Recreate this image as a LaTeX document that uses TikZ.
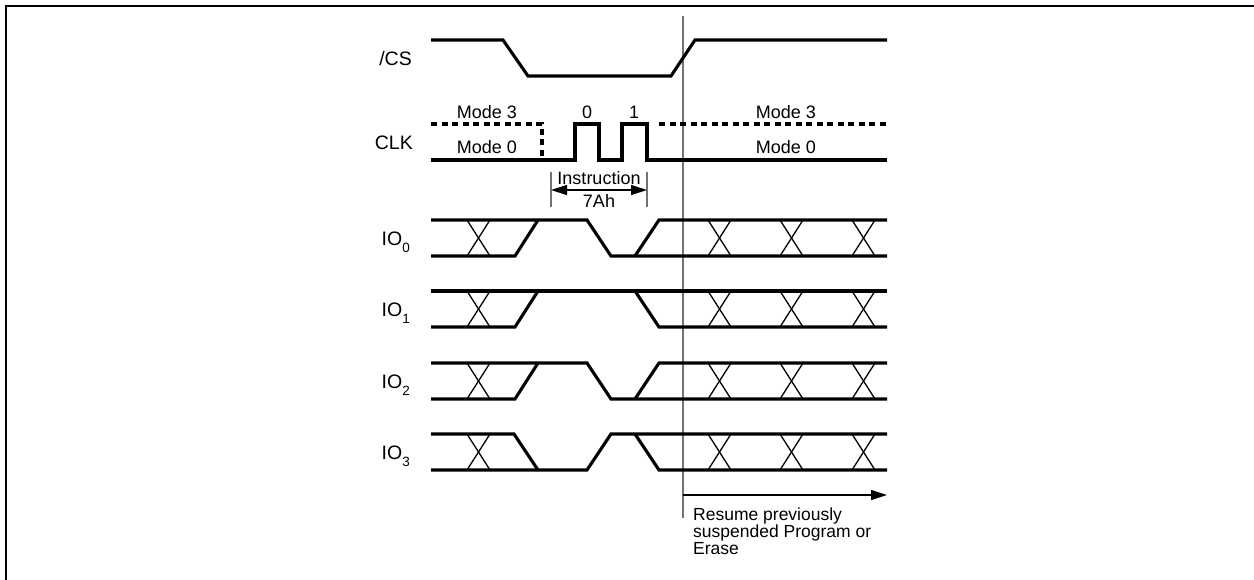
\documentclass[tikz,border=0pt]{standalone}
\usepackage{fontspec}
\setmainfont{Liberation Sans}
\usetikzlibrary{arrows.meta}
\begin{document}
\begin{tikzpicture}[x=1pt,y=-1pt,
  sig/.style={line width=3.1pt},
  xline/.style={line width=1.3pt},
  dsig/.style={line width=3.1pt, dash pattern=on 6pt off 4.5pt},
  guide/.style={line width=1.2pt, draw=black!55},
  lbl/.style={font=\fontsize{19.5}{19}\selectfont, inner sep=0pt, anchor=base east},
  txt/.style={font=\fontsize{18}{16}\selectfont, inner sep=0pt, anchor=base},
  rtxt/.style={font=\fontsize{17.5}{16}\selectfont, inner sep=0pt, anchor=base west},
  frame/.style={line width=2.2pt}]
\useasboundingbox (0,0) rectangle (1254,579);
\begin{scope}
\clip (0,0) rectangle (1254,579);
\draw[frame] (6,6) rectangle (1270,600);
\end{scope}
% guide line
\draw[guide] (683,16) coordinate (gtop) -- (683,518) coordinate (gbot);
\coordinate (arrS) at (683,495);
\coordinate (arrE) at (887,495);
\draw[line width=1.2pt, -{Triangle[length=16pt,width=10pt]}] (arrS) -- (arrE);
\node[rtxt] (resume1) at (693,520) {Resume previously};
\node[rtxt] (resume2) at (693,537) {suspended Program or};
\node[rtxt] (resume3) at (693,554) {Erase};
% labels
\node[lbl] (lcs) at (412,65) {/CS};
\node[lbl] (lclk) at (413,149) {CLK};
\foreach \n/\m in {0/238,1/309,2/381,3/452}{
  \node[lbl] (lio\n) at (410,\m+7) {IO\raisebox{-7pt}{\fontsize{13.5}{13}\selectfont\n}};
}
% /CS
\draw[sig] (431,40) -- (503,40) -- (528,76) -- (671,76) -- (695,40) -- (887,40);
% CLK
\draw[sig] (431,160) -- (575,160) -- (575,124) -- (599,124) -- (599,160) -- (622,160) -- (622,124) -- (647,124) -- (647,160) -- (887,160);
\draw[dsig] (431,124) -- (542,124) -- (542,160);
\draw[dsig] (659,124) -- (887,124);
\node[txt] (m3l) at (487,118) {Mode 3};
\node[txt] (m0l) at (487,153) {Mode 0};
\node[txt] (c0) at (587,118) {0};
\node[txt] (c1) at (634,118) {1};
\node[txt] (m3r) at (786,118) {Mode 3};
\node[txt] (m0r) at (786,153) {Mode 0};
% instruction dimension
\coordinate (ia) at (551,190);
\coordinate (ib) at (647,190);
\draw[guide] (551,172) -- (551,207);
\draw[guide] (647,172) -- (647,207);
\draw[line width=1.2pt, {Triangle[length=16pt,width=10pt]}-{Triangle[length=16pt,width=10pt]}] (ia) -- (ib);
\node[txt] (instr) at (599,184) {Instruction};
\node[txt] (h7a) at (599,207) {7Ah};
% IO rows
\newcommand{\xcross}[3]{\draw[xline] (#1,#2) -- (#1+23,#3); \draw[xline] (#1,#3) -- (#1+23,#2);}
% IO0 and IO2
\foreach \t/\b in {220/256,363/399}{
  \draw[sig] (431,\t) -- (587,\t) -- (611,\b) -- (887,\b);
  \draw[sig] (431,\b) -- (515,\b) -- (538,\t);
  \draw[sig] (635,\b) -- (659,\t) -- (887,\t);
}
% IO1
\draw[sig] (431,291) -- (887,291);
\draw[sig] (431,327) -- (515,327) -- (538,291);
\draw[sig] (635,291) -- (659,327) -- (887,327);
% IO3
\draw[sig] (431,434) -- (514,434) -- (538,470);
\draw[sig] (431,470) -- (587,470) -- (611,434) -- (887,434);
\draw[sig] (635,434) -- (659,470) -- (887,470);
% crossings
\foreach \t/\b in {220/256,291/327,363/399,434/470}{
  \foreach \x in {467,708,780,852}{
    \xcross{\x}{\t}{\b}
  }
}
\end{tikzpicture}
\end{document}
